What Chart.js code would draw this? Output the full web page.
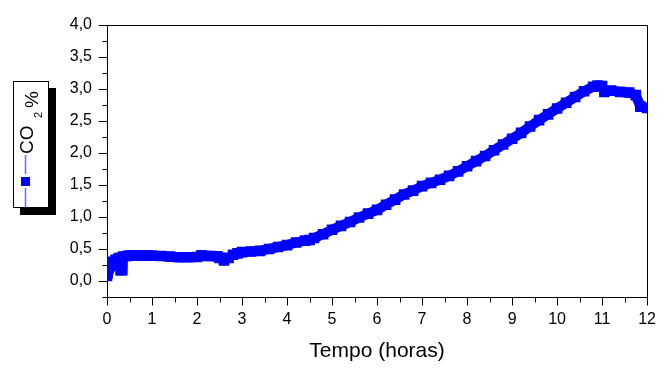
<!DOCTYPE html>
<html lang="pt">
<head>
    <meta charset="UTF-8">
    <title>CO2 x Tempo</title>
    <script src="https://cdn.jsdelivr.net/npm/chart.js"></script>
    <style>
        html, body { margin: 0; padding: 0; background: #fff; }
        canvas { display: block; }
    </style>
</head>
<body>
    <canvas id="co2Chart" width="669" height="368"></canvas>
    <script>
        // Série medida: tempo (horas) e CO2 (%)
        const hours = [
            0.00, 0.01, 0.02, 0.04, 0.065, 0.10, 0.14, 0.19, 0.25, 0.29, 0.30, 0.34, 0.36, 0.45, 0.50,
            0.60, 0.70, 0.80, 0.90, 1.00, 1.20, 1.40, 1.60, 1.80, 2.00,
            2.10, 2.20, 2.30, 2.45, 2.50, 2.60, 2.70, 2.80, 2.90, 3.00,
            3.20, 3.40, 3.60, 3.80, 4.00, 4.20, 4.40, 4.50, 4.60, 4.80,
            5.00, 5.20, 5.40, 5.60, 5.80, 6.00, 6.20, 6.40, 6.60, 6.80,
            7.00, 7.20, 7.40, 7.60, 7.80, 8.00, 8.20, 8.40, 8.60, 8.80,
            9.00, 9.20, 9.40, 9.60, 9.80, 10.00, 10.20, 10.40, 10.60, 10.80,
            10.90, 11.00, 11.05, 11.20, 11.40, 11.60, 11.75, 11.85, 12.00
        ];
        const co2 = [
            0.08, 0.12, 0.17, 0.20, 0.23, 0.27, 0.30, 0.33, 0.35, 0.36, 0.17, 0.17, 0.38, 0.39, 0.395,
            0.40, 0.40, 0.40, 0.40, 0.395, 0.39, 0.38, 0.37, 0.37, 0.375,
            0.40, 0.39, 0.39, 0.385, 0.36, 0.32, 0.36, 0.41, 0.43, 0.45,
            0.46, 0.47, 0.50, 0.53, 0.56, 0.60, 0.63, 0.64, 0.67, 0.73,
            0.80, 0.86, 0.92, 0.99, 1.05, 1.11, 1.19, 1.27, 1.35, 1.41,
            1.48, 1.53, 1.58, 1.64, 1.71, 1.79, 1.87, 1.95, 2.04, 2.13,
            2.22, 2.31, 2.41, 2.51, 2.60, 2.69, 2.78, 2.87, 2.96, 3.03,
            3.05, 3.04, 2.95, 2.97, 2.95, 2.94, 2.90, 2.72, 2.70
        ];
        const xTicks = [0, 1, 2, 3, 4, 5, 6, 7, 8, 9, 10, 11, 12];
        const yTicks = [0, 0.5, 1, 1.5, 2, 2.5, 3, 3.5, 4];

        const blue = '#0000ff';
        Chart.defaults.color = '#000';
        Chart.defaults.font.family = "'Liberation Sans', Arial, sans-serif";

        // moldura fechada + marcas maiores e menores para fora
        const frame = {
            id: 'frame',
            beforeDatasetsDraw(chart) {
                const { ctx, chartArea: a, scales: { x, y } } = chart;
                const L = Math.round(a.left) + 0.5, R = Math.round(a.right) + 0.5;
                const T = Math.round(a.top) + 0.5, B = Math.round(a.bottom) + 0.5;
                ctx.save();
                ctx.strokeStyle = '#000';
                ctx.lineWidth = 1;
                ctx.beginPath();
                ctx.rect(L, T, R - L, B - T);
                for (let i = 0; i < xTicks.length; i++) {
                    const px = Math.round(x.getPixelForValue(xTicks[i])) + 0.5;
                    ctx.moveTo(px, B); ctx.lineTo(px, B + 8);
                    if (i < xTicks.length - 1) {
                        const mx = Math.round(x.getPixelForValue(xTicks[i] + 0.5)) + 0.5;
                        ctx.moveTo(mx, B); ctx.lineTo(mx, B + 5);
                    }
                }
                for (let i = 0; i < yTicks.length; i++) {
                    const py = Math.round(y.getPixelForValue(yTicks[i])) + 0.5;
                    ctx.moveTo(L, py); ctx.lineTo(L - 9, py);
                    const my = Math.round(y.getPixelForValue(yTicks[i] - 0.25)) + 0.5;
                    ctx.moveTo(L, my); ctx.lineTo(L - 5, my);
                }
                ctx.stroke();
                ctx.restore();
            }
        };

        // legenda vertical com sombra, à esquerda do eixo
        const sideLegend = {
            id: 'sideLegend',
            afterDraw(chart) {
                const ctx = chart.ctx;
                const ds = chart.data.datasets[0];
                ctx.save();
                ctx.fillStyle = '#000';
                ctx.fillRect(20, 88, 36, 127);
                ctx.fillStyle = '#fff';
                ctx.fillRect(13, 81, 36, 127);
                ctx.strokeStyle = '#000';
                ctx.lineWidth = 1;
                ctx.strokeRect(13.5, 81.5, 35, 126);

                ctx.strokeStyle = '#6a6aff';
                ctx.lineWidth = 1.5;
                ctx.beginPath();
                ctx.moveTo(25.5, 155); ctx.lineTo(25.5, 174);
                ctx.moveTo(25.5, 188); ctx.lineTo(25.5, 207);
                ctx.stroke();
                ctx.fillStyle = blue;
                ctx.fillRect(21, 177, 9, 9);

                ctx.translate(33, 154);
                ctx.rotate(-Math.PI / 2);
                ctx.fillStyle = '#000';
                ctx.textBaseline = 'alphabetic';
                ctx.font = "19px 'Liberation Sans', Arial, sans-serif";
                ctx.fillText(ds.label.slice(0, 2), 0, 0);
                ctx.font = "11px 'Liberation Sans', Arial, sans-serif";
                ctx.fillText(ds.label.slice(2, 3), 36, 9);
                ctx.font = "19px 'Liberation Sans', Arial, sans-serif";
                ctx.fillText(ds.label.slice(3), 46, 5);
                ctx.restore();
            }
        };

        const fmt = v => v.toFixed(1).replace('.', ',');

        new Chart(document.getElementById('co2Chart'), {
            type: 'line',
            data: {
                datasets: [{
                    label: 'CO2%',
                    data: hours.map((h, i) => ({ x: h, y: co2[i] })),
                    borderColor: blue,
                    backgroundColor: blue,
                    borderWidth: 10,
                    borderJoinStyle: 'round',
                    pointStyle: 'rect',
                    pointRadius: 7.5,
                    pointBorderWidth: 0,
                    pointBackgroundColor: blue,
                    tension: 0
                }]
            },
            options: {
                responsive: false,
                animation: false,
                layout: { padding: { top: 21, right: 12, left: 0, bottom: 0 } },
                plugins: {
                    legend: { display: false },
                    tooltip: { enabled: false }
                },
                scales: {
                    x: {
                        type: 'linear',
                        min: 0,
                        max: 12,
                        grid: { display: false, drawTicks: false },
                        border: { display: false },
                        afterBuildTicks: s => { s.ticks = xTicks.map(v => ({ value: v })); },
                        afterFit: s => { s.height = 71; },
                        ticks: { padding: 13, font: { size: 16 }, maxRotation: 0 },
                        title: {
                            display: true,
                            text: 'Tempo (horas)',
                            font: { size: 21 },
                            padding: { top: 0, bottom: 4 }
                        }
                    },
                    y: {
                        min: -0.25,
                        max: 4,
                        grid: { display: false, drawTicks: false },
                        border: { display: false },
                        afterBuildTicks: s => { s.ticks = yTicks.map(v => ({ value: v })); },
                        afterFit: s => { s.width = 107; },
                        ticks: { padding: 15, font: { size: 16 }, callback: v => fmt(v) }
                    }
                }
            },
            plugins: [frame, sideLegend]
        });
    </script>
</body>
</html>
